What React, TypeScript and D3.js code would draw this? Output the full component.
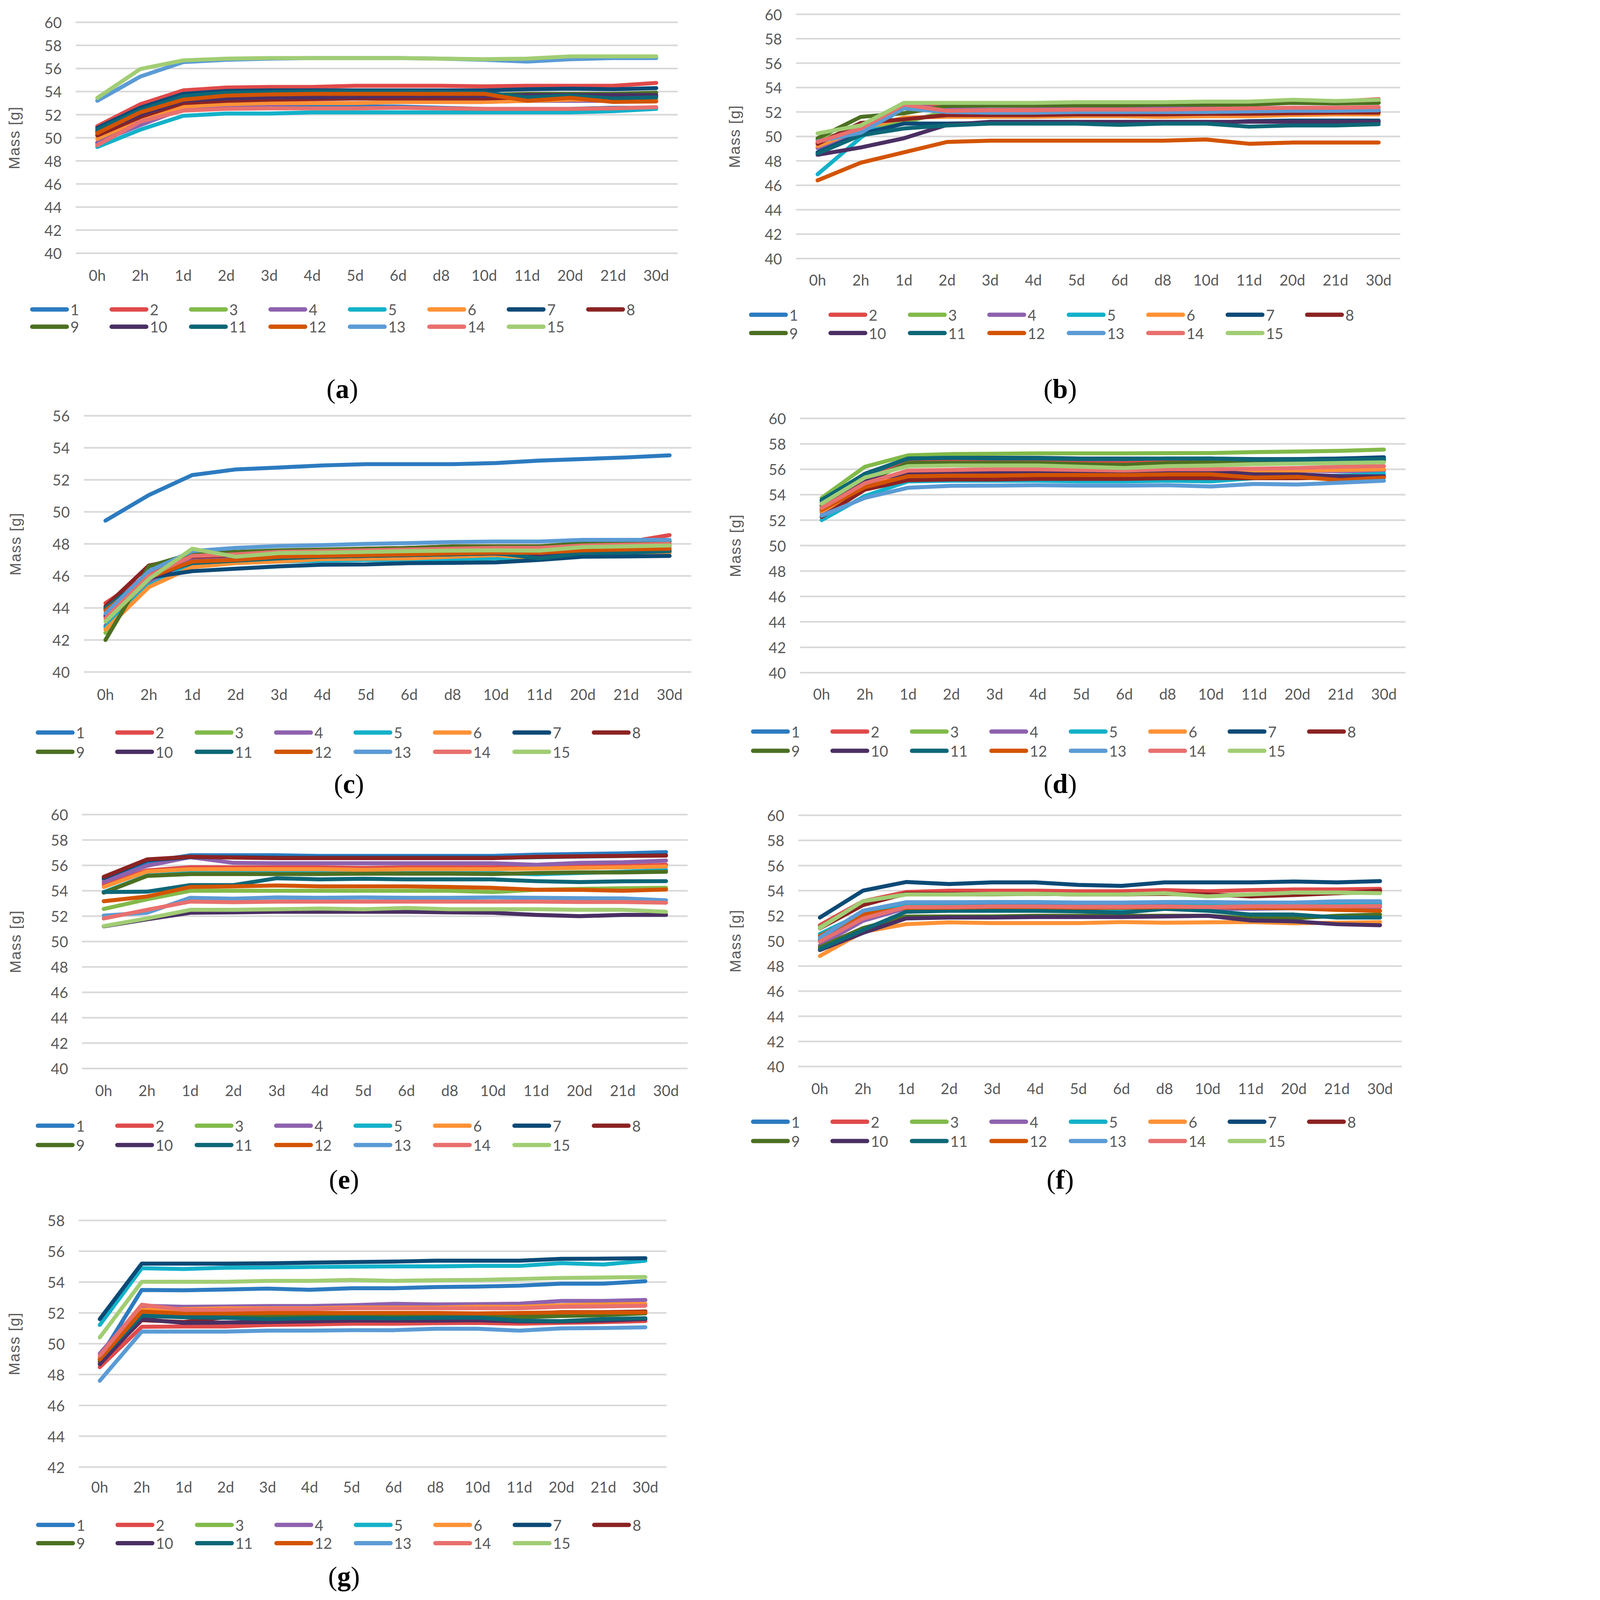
import * as d3 from "d3";

const categories = ["0h", "2h", "1d", "2d", "3d", "4d", "5d", "6d", "d8", "10d", "11d", "20d", "21d", "30d"];
const seriesNames = ["1", "2", "3", "4", "5", "6", "7", "8", "9", "10", "11", "12", "13", "14", "15"];
const seriesColors = [
  "#2C7BC0", "#E04A4A", "#82BA4A", "#8E62AE", "#13B1C9", "#FF9236", "#0C4A76", "#8B2323",
  "#4C7022", "#4A2F63", "#0D6776", "#D35400", "#5B9BD5", "#E8706E", "#A1CD74",
];

// mass [g] per sample (rows = series 1..15, columns = categories)
const massA = [
  [49.5, 51.3, 52.4, 52.6, 52.7, 52.7, 52.7, 52.7, 52.6, 52.5, 52.5, 52.5, 52.6, 52.6],
  [51.0, 52.9, 54.1, 54.35, 54.4, 54.4, 54.5, 54.5, 54.5, 54.45, 54.5, 54.5, 54.5, 54.75],
  [50.3, 51.9, 53.1, 53.3, 53.4, 53.5, 53.5, 53.5, 53.5, 53.5, 53.5, 53.6, 53.6, 53.7],
  [49.6, 51.1, 52.5, 52.8, 52.9, 53.0, 53.0, 53.1, 53.1, 53.1, 53.2, 53.2, 53.2, 53.3],
  [49.2, 50.7, 51.9, 52.1, 52.1, 52.2, 52.2, 52.2, 52.2, 52.2, 52.2, 52.2, 52.3, 52.5],
  [49.9, 51.6, 52.7, 52.9, 53.0, 53.0, 53.0, 53.1, 53.1, 53.1, 53.2, 53.3, 53.3, 53.3],
  [50.85, 52.6, 53.8, 54.05, 54.1, 54.1, 54.1, 54.1, 54.1, 54.1, 54.2, 54.25, 54.2, 54.3],
  [50.2, 51.8, 53.0, 53.2, 53.3, 53.35, 53.4, 53.4, 53.4, 53.4, 53.5, 53.5, 53.5, 53.6],
  [50.6, 52.3, 53.4, 53.5, 53.6, 53.6, 53.7, 53.7, 53.7, 53.7, 53.8, 53.8, 53.8, 53.9],
  [50.5, 52.0, 53.2, 53.4, 53.5, 53.5, 53.55, 53.6, 53.6, 53.6, 53.7, 53.7, 53.7, 53.7],
  [50.7, 52.4, 53.6, 53.9, 53.95, 54.0, 54.0, 54.0, 53.95, 53.9, 53.5, 53.65, 53.4, 53.5],
  [50.4, 52.2, 53.3, 53.65, 53.75, 53.8, 53.8, 53.8, 53.8, 53.8, 53.2, 53.45, 53.1, 53.15],
  [53.2, 55.3, 56.55, 56.75, 56.85, 56.9, 56.9, 56.9, 56.85, 56.75, 56.6, 56.8, 56.9, 56.9],
  [49.35, 51.4, 52.35, 52.5, 52.55, 52.55, 52.55, 52.6, 52.55, 52.5, 52.5, 52.5, 52.55, 52.65],
  [53.45, 55.95, 56.7, 56.85, 56.9, 56.9, 56.9, 56.9, 56.85, 56.8, 56.85, 57.05, 57.05, 57.05],
];

const massB = [
  [49.8, 50.5, 52.5, 52.05, 52.05, 52.05, 52.05, 52.05, 52.05, 52.1, 52.1, 52.1, 52.1, 52.1],
  [49.5, 50.9, 52.6, 52.4, 52.45, 52.5, 52.55, 52.55, 52.6, 52.65, 52.7, 52.8, 52.85, 53.05],
  [49.7, 50.7, 51.1, 52.1, 52.5, 52.55, 52.6, 52.6, 52.6, 52.65, 52.7, 52.8, 52.75, 52.8],
  [49.05, 50.3, 52.6, 52.2, 52.2, 52.2, 52.25, 52.3, 52.3, 52.3, 52.3, 52.35, 52.35, 52.35],
  [46.9, 49.9, 52.4, 52.05, 52.0, 52.0, 52.0, 52.0, 52.0, 52.0, 52.0, 52.1, 52.1, 52.1],
  [49.2, 50.6, 51.55, 51.6, 51.6, 51.6, 51.65, 51.65, 51.6, 51.65, 51.65, 51.75, 51.8, 51.8],
  [48.7, 50.2, 51.05, 51.05, 51.1, 51.1, 51.1, 51.1, 51.1, 51.1, 51.25, 51.3, 51.3, 51.3],
  [49.4, 51.1, 51.4, 51.75, 51.75, 51.75, 51.8, 51.8, 51.8, 51.85, 51.85, 51.9, 51.95, 51.95],
  [49.85, 51.6, 51.9, 52.5, 52.55, 52.55, 52.55, 52.55, 52.6, 52.6, 52.6, 52.75, 52.7, 52.75],
  [48.5, 49.1, 49.85, 50.95, 51.2, 51.2, 51.2, 51.2, 51.2, 51.2, 51.2, 51.2, 51.2, 51.2],
  [48.6, 50.1, 50.65, 50.9, 51.05, 51.05, 51.05, 50.95, 51.05, 51.05, 50.8, 50.9, 50.9, 51.0],
  [46.4, 47.85, 48.7, 49.55, 49.65, 49.65, 49.65, 49.65, 49.65, 49.75, 49.4, 49.5, 49.5, 49.5],
  [49.6, 50.3, 52.3, 52.0, 51.95, 51.95, 52.0, 52.0, 52.0, 52.0, 52.05, 52.1, 52.1, 52.15],
  [49.55, 50.65, 52.6, 52.1, 52.15, 52.15, 52.2, 52.2, 52.2, 52.25, 52.3, 52.35, 52.35, 52.4],
  [50.25, 50.9, 52.75, 52.75, 52.75, 52.75, 52.8, 52.8, 52.8, 52.85, 52.85, 53.0, 52.9, 53.0],
];

const massC = [
  [49.45, 51.05, 52.3, 52.65, 52.77, 52.9, 52.98, 52.98, 52.98, 53.05, 53.2, 53.3, 53.4, 53.53],
  [44.3, 46.1, 47.3, 47.4, 47.55, 47.6, 47.7, 47.75, 47.85, 47.85, 47.85, 48.0, 48.1, 48.55],
  [42.45, 45.7, 47.2, 47.3, 47.4, 47.45, 47.55, 47.6, 47.65, 47.7, 47.7, 47.85, 47.9, 48.0],
  [42.9, 45.6, 47.1, 47.2, 47.3, 47.35, 47.4, 47.45, 47.5, 47.5, 47.55, 47.7, 47.75, 47.85],
  [42.8, 45.4, 46.7, 46.8, 46.9, 46.95, 47.0, 47.0, 47.05, 47.1, 47.1, 47.3, 47.35, 47.5],
  [42.65, 45.3, 46.55, 46.8, 46.9, 47.05, 47.08, 47.1, 47.2, 47.3, 47.1, 47.3, 47.35, 47.45],
  [43.9, 45.9, 46.3, 46.45, 46.6, 46.7, 46.72, 46.8, 46.82, 46.85, 47.0, 47.2, 47.22, 47.25],
  [44.1, 46.65, 47.2, 47.3, 47.4, 47.45, 47.5, 47.55, 47.6, 47.6, 47.6, 47.75, 47.8, 47.9],
  [42.0, 46.6, 47.4, 47.5, 47.6, 47.65, 47.7, 47.75, 47.85, 47.85, 47.85, 48.05, 48.1, 48.15],
  [43.5, 45.8, 46.9, 47.0, 47.15, 47.2, 47.25, 47.3, 47.35, 47.4, 47.2, 47.45, 47.5, 47.6],
  [44.0, 46.0, 46.8, 46.95, 47.1, 47.2, 47.25, 47.3, 47.35, 47.43, 47.1, 47.43, 47.45, 47.55],
  [43.85, 45.9, 46.9, 47.0, 47.2, 47.25, 47.3, 47.35, 47.4, 47.45, 47.45, 47.6, 47.65, 47.7],
  [43.65, 46.3, 47.55, 47.75, 47.87, 47.92, 48.0, 48.05, 48.12, 48.15, 48.15, 48.25, 48.25, 48.25],
  [43.35, 46.0, 47.25, 47.35, 47.5, 47.55, 47.6, 47.65, 47.7, 47.75, 47.75, 47.9, 47.95, 48.0],
  [43.15, 45.8, 47.7, 47.2, 47.43, 47.45, 47.5, 47.55, 47.58, 47.6, 47.58, 47.8, 47.85, 47.9],
];

const massD = [
  [53.4, 55.4, 56.7, 56.75, 56.75, 56.8, 56.75, 56.75, 56.8, 56.85, 56.75, 56.8, 56.85, 56.9],
  [53.2, 55.2, 56.55, 56.6, 56.55, 56.6, 56.55, 56.6, 56.6, 56.65, 56.6, 56.65, 56.7, 56.75],
  [53.75, 56.2, 57.1, 57.2, 57.22, 57.25, 57.25, 57.25, 57.27, 57.28, 57.35, 57.4, 57.45, 57.55],
  [52.6, 54.8, 55.8, 55.9, 55.95, 55.95, 55.9, 55.9, 55.95, 56.0, 55.9, 55.9, 55.85, 55.9],
  [52.0, 53.9, 55.05, 55.1, 55.1, 55.1, 55.05, 55.05, 55.1, 55.05, 55.3, 55.4, 55.5, 55.65],
  [52.7, 54.5, 55.7, 55.8, 55.8, 55.85, 55.8, 55.75, 55.8, 55.8, 55.85, 55.9, 55.95, 56.0],
  [53.55, 55.65, 56.85, 56.9, 56.9, 56.9, 56.85, 56.85, 56.85, 56.85, 56.8, 56.8, 56.85, 56.95],
  [52.25, 54.4, 55.15, 55.2, 55.2, 55.25, 55.25, 55.25, 55.3, 55.3, 55.3, 55.3, 55.35, 55.4],
  [53.1, 55.0, 56.5, 56.5, 56.5, 56.5, 56.4, 56.35, 56.5, 56.55, 56.6, 56.6, 56.65, 56.7],
  [52.9, 55.15, 55.65, 55.75, 55.8, 55.75, 55.75, 55.8, 55.8, 55.85, 55.6, 55.6, 55.45, 55.45],
  [53.6, 55.6, 56.85, 56.9, 56.85, 56.85, 56.8, 56.8, 56.85, 56.85, 56.75, 56.75, 56.75, 56.8],
  [52.8, 54.6, 55.45, 55.5, 55.5, 55.55, 55.55, 55.55, 55.6, 55.6, 55.35, 55.4, 55.15, 55.35],
  [52.35, 53.75, 54.55, 54.7, 54.72, 54.75, 54.72, 54.72, 54.75, 54.65, 54.85, 54.8, 54.95, 55.1],
  [52.95, 54.9, 55.9, 55.95, 56.0, 56.0, 55.95, 55.9, 56.0, 56.0, 56.05, 56.1, 56.2, 56.25],
  [53.3, 55.35, 56.25, 56.3, 56.3, 56.3, 56.2, 56.1, 56.25, 56.3, 56.4, 56.45, 56.5, 56.55],
];

const massE = [
  [54.9, 56.27, 56.8, 56.8, 56.8, 56.75, 56.75, 56.75, 56.75, 56.75, 56.85, 56.9, 56.95, 57.05],
  [54.5, 55.6, 55.86, 55.85, 55.85, 55.85, 55.8, 55.85, 55.85, 55.85, 55.9, 55.95, 55.95, 56.05],
  [52.57, 53.33, 54.0, 54.0, 54.0, 54.0, 54.0, 54.0, 54.0, 53.9, 54.08, 54.15, 54.2, 54.23],
  [54.7, 55.97, 56.65, 56.2, 56.17, 56.17, 56.17, 56.17, 56.17, 56.17, 56.05, 56.2, 56.25, 56.38],
  [53.9, 55.2, 55.4, 55.4, 55.4, 55.4, 55.35, 55.4, 55.4, 55.4, 55.3, 55.4, 55.5, 55.65],
  [54.3, 55.52, 55.7, 55.7, 55.7, 55.7, 55.65, 55.7, 55.7, 55.7, 55.75, 55.8, 55.85, 55.92],
  [55.0, 56.4, 56.65, 56.65, 56.6, 56.6, 56.6, 56.6, 56.6, 56.6, 56.65, 56.7, 56.75, 56.8],
  [55.1, 56.47, 56.68, 56.62, 56.57, 56.57, 56.57, 56.57, 56.57, 56.57, 56.68, 56.72, 56.75, 56.77],
  [53.85, 55.17, 55.32, 55.32, 55.32, 55.32, 55.35, 55.35, 55.35, 55.32, 55.4, 55.45, 55.45, 55.5],
  [51.2, 51.75, 52.27, 52.3, 52.35, 52.35, 52.35, 52.35, 52.3, 52.27, 52.1, 52.0, 52.1, 52.1],
  [53.9, 53.93, 54.45, 54.45, 54.99, 54.9, 54.95, 54.9, 54.9, 54.9, 54.76, 54.69, 54.75, 54.76],
  [53.18, 53.55, 54.3, 54.35, 54.42, 54.35, 54.35, 54.35, 54.3, 54.23, 54.08, 54.08, 54.0, 54.1],
  [52.05, 52.27, 53.45, 53.38, 53.48, 53.45, 53.48, 53.45, 53.45, 53.48, 53.45, 53.42, 53.4, 53.25],
  [51.82, 52.5, 53.15, 53.1, 53.15, 53.15, 53.15, 53.15, 53.15, 53.15, 53.15, 53.12, 53.12, 53.06],
  [51.22, 51.82, 52.5, 52.5, 52.55, 52.6, 52.55, 52.65, 52.55, 52.55, 52.55, 52.5, 52.5, 52.35],
];

const massF = [
  [50.1, 51.9, 52.85, 52.9, 52.9, 52.9, 52.9, 52.85, 52.95, 52.95, 52.9, 52.95, 52.95, 53.0],
  [51.25, 53.16, 53.89, 54.0, 54.0, 54.0, 53.95, 53.95, 54.05, 53.95, 54.05, 54.1, 54.1, 54.15],
  [51.1, 53.05, 53.7, 53.7, 53.7, 53.75, 53.7, 53.7, 53.75, 53.6, 53.7, 53.8, 53.8, 53.85],
  [49.65, 51.6, 52.6, 52.6, 52.65, 52.65, 52.6, 52.6, 52.6, 52.55, 52.55, 52.6, 52.65, 52.7],
  [50.56, 52.2, 52.8, 52.75, 52.75, 52.75, 52.7, 52.55, 52.75, 52.8, 52.8, 52.85, 52.85, 52.9],
  [48.8, 50.72, 51.33, 51.48, 51.42, 51.42, 51.42, 51.5, 51.45, 51.48, 51.5, 51.4, 51.45, 51.5],
  [51.86, 54.0, 54.69, 54.53, 54.66, 54.66, 54.46, 54.38, 54.66, 54.66, 54.66, 54.73, 54.66, 54.76],
  [51.0, 52.85, 53.77, 53.75, 53.75, 53.75, 53.7, 53.7, 53.75, 53.7, 53.54, 53.65, 53.8, 54.0],
  [49.5, 51.02, 51.94, 51.95, 51.95, 52.0, 52.0, 52.0, 52.0, 52.0, 51.8, 51.8, 52.0, 52.1],
  [49.27, 50.64, 51.79, 51.86, 51.86, 51.9, 51.9, 51.9, 51.95, 52.0, 51.63, 51.56, 51.33, 51.25],
  [49.34, 50.87, 52.32, 52.4, 52.4, 52.4, 52.35, 52.25, 52.55, 52.4, 52.1, 52.1, 51.86, 51.86],
  [50.4, 52.1, 52.63, 52.65, 52.7, 52.7, 52.65, 52.65, 52.7, 52.7, 52.65, 52.6, 52.47, 52.4],
  [50.26, 52.4, 53.08, 53.08, 53.1, 53.1, 53.05, 53.05, 53.1, 53.1, 53.05, 53.05, 53.15, 53.16],
  [49.95, 51.79, 52.7, 52.7, 52.75, 52.75, 52.72, 52.72, 52.75, 52.7, 52.75, 52.75, 52.75, 52.78],
  [51.02, 53.16, 53.7, 53.7, 53.75, 53.75, 53.7, 53.7, 53.8, 53.54, 53.7, 53.85, 53.85, 53.8],
];

const massG = [
  [49.1, 53.49, 53.47, 53.52, 53.58, 53.5, 53.6, 53.6, 53.68, 53.71, 53.77, 53.9, 53.9, 54.06],
  [48.48, 51.1, 51.12, 51.12, 51.22, 51.25, 51.3, 51.3, 51.33, 51.35, 51.3, 51.35, 51.4, 51.47],
  [49.0, 51.9, 51.8, 51.85, 51.85, 51.85, 51.9, 51.9, 51.9, 51.95, 51.85, 51.8, 51.9, 52.1],
  [49.36, 52.47, 52.4, 52.42, 52.45, 52.45, 52.5, 52.59, 52.55, 52.57, 52.6, 52.78, 52.78, 52.84],
  [51.22, 54.9, 54.85, 54.93, 54.95, 54.98, 55.0, 55.02, 55.02, 55.05, 55.05, 55.23, 55.14, 55.39],
  [49.1, 52.2, 52.25, 52.3, 52.3, 52.3, 52.35, 52.35, 52.35, 52.4, 52.4, 52.5, 52.55, 52.59],
  [51.6, 55.2, 55.2, 55.2, 55.22, 55.26, 55.3, 55.33, 55.39, 55.39, 55.39, 55.51, 55.52, 55.55],
  [48.8, 51.53, 51.41, 51.72, 51.75, 51.8, 51.85, 51.85, 51.9, 51.9, 51.95, 52.05, 52.05, 52.09],
  [48.9, 51.78, 51.75, 51.8, 51.8, 51.8, 51.8, 51.8, 51.85, 51.85, 51.72, 51.8, 51.85, 51.97],
  [48.67, 51.6, 51.35, 51.38, 51.41, 51.45, 51.5, 51.5, 51.5, 51.52, 51.45, 51.45, 51.5, 51.6],
  [48.98, 51.82, 51.72, 51.68, 51.6, 51.65, 51.68, 51.65, 51.68, 51.7, 51.5, 51.47, 51.6, 51.66],
  [48.98, 52.09, 51.97, 51.97, 52.0, 52.0, 52.0, 52.0, 52.0, 51.97, 52.0, 52.03, 52.03, 52.03],
  [47.6, 50.79, 50.79, 50.79, 50.85, 50.85, 50.88, 50.88, 50.97, 50.97, 50.85, 51.0, 51.02, 51.07],
  [49.23, 52.53, 52.2, 52.2, 52.25, 52.25, 52.3, 52.3, 52.3, 52.3, 52.3, 52.4, 52.42, 52.47],
  [50.41, 54.02, 54.02, 54.02, 54.08, 54.08, 54.14, 54.08, 54.12, 54.14, 54.2, 54.27, 54.3, 54.33],
];

// panel placement on the 4242 x 4814 canvas
const panels = [
  { id: "a", data: massA, yDomain: [40, 60], left: 228, right: 2039, top: 67, bottom: 762, xLabelY: 827, legendX: 90, legendY: [931, 983], capX: 1030, capY: 1178, titleX: 43 },
  { id: "b", data: massB, yDomain: [40, 60], left: 2395, right: 4213, top: 43, bottom: 778, xLabelY: 842, legendX: 2253, legendY: [947, 1002], capX: 3190, capY: 1178, titleX: 2210 },
  { id: "c", data: massC, yDomain: [40, 56], left: 252, right: 2080, top: 1251, bottom: 2022, xLabelY: 2088, legendX: 107, legendY: [2204, 2262], capX: 1050, capY: 2366, titleX: 47 },
  { id: "d", data: massD, yDomain: [40, 60], left: 2407, right: 4229, top: 1259, bottom: 2024, xLabelY: 2087, legendX: 2259, legendY: [2201, 2259], capX: 3190, capY: 2366, titleX: 2213 },
  { id: "e", data: massE, yDomain: [40, 60], left: 247, right: 2069, top: 2451, bottom: 3215, xLabelY: 3280, legendX: 107, legendY: [3387, 3445], capX: 1035, capY: 3556, titleX: 47 },
  { id: "f", data: massF, yDomain: [40, 60], left: 2402, right: 4217, top: 2453, bottom: 3209, xLabelY: 3274, legendX: 2259, legendY: [3375, 3433], capX: 3190, capY: 3556, titleX: 2213 },
  { id: "g", data: massG, yDomain: [42, 58], left: 237, right: 2005, top: 3672, bottom: 4414, xLabelY: 4473, legendX: 108, legendY: [4588, 4643], capX: 1035, capY: 4751, titleX: 43 },
];

const labelFont = "Lato, 'Open Sans', sans-serif";
const gray = "#595959";

function Panel({ p }: { p: (typeof panels)[number] }) {
  const x = d3.scaleBand<string>().domain(categories).range([p.left, p.right]);
  const y = d3.scaleLinear().domain(p.yDomain).range([p.bottom, p.top]);
  const ticks = d3.range(p.yDomain[0], p.yDomain[1] + 0.1, 2);
  const cx = (c: string) => (x(c) ?? 0) + x.bandwidth() / 2;
  const line = d3
    .line<number>()
    .x((_, i) => cx(categories[i]))
    .y((d) => y(d));

  return (
    <g>
      {ticks.map((t) => (
        <g key={t}>
          <line x1={p.left} x2={p.right} y1={y(t)} y2={y(t)} stroke="#D9D9D9" strokeWidth={5} />
          <text x={p.left - 42} y={y(t)} textAnchor="end" dominantBaseline="central" fontSize={45} fill={gray} fontFamily={labelFont}>
            {t}
          </text>
        </g>
      ))}
      {categories.map((c) => (
        <text key={c} x={cx(c)} y={p.xLabelY} textAnchor="middle" dominantBaseline="central" fontSize={45} fill={gray} fontFamily={labelFont}>
          {c}
        </text>
      ))}
      <text
        transform={`translate(${p.titleX},${(p.top + p.bottom) / 2}) rotate(-90)`}
        textAnchor="middle"
        dominantBaseline="central"
        fontSize={46}
        letterSpacing={2}
        fill={gray}
        fontFamily="'Liberation Sans', Arial, sans-serif"
      >
        Mass [g]
      </text>
      {p.data.map((s, i) => (
        <path key={i} d={line(s) ?? ""} fill="none" stroke={seriesColors[i]} strokeWidth={12} strokeLinejoin="round" strokeLinecap="round" />
      ))}
      {seriesNames.map((name, i) => {
        const x0 = p.legendX + (i % 8) * 239;
        const yy = p.legendY[i < 8 ? 0 : 1];
        return (
          <g key={name}>
            <line x1={x0 + 7} x2={x0 + 111} y1={yy} y2={yy} stroke={seriesColors[i]} strokeWidth={13} strokeLinecap="round" />
            <text x={x0 + 122} y={yy} dominantBaseline="central" fontSize={45} fill={gray} fontFamily={labelFont}>
              {name}
            </text>
          </g>
        );
      })}
      <text x={p.capX} y={p.capY + 20} textAnchor="middle" fontSize={82} fill="#000" fontFamily="'Liberation Serif', 'Times New Roman', serif">
        (<tspan fontWeight="bold">{p.id}</tspan>)
      </text>
    </g>
  );
}

export default function App() {
  return (
    <svg
      viewBox="0 0 4242 4814"
      preserveAspectRatio="xMinYMin meet"
      style={{ position: "fixed", left: 0, top: 0, width: "100vw", height: "100vh", display: "block", background: "#fff" }}
    >
      <rect width={4242} height={4814} fill="#fff" />
      {panels.map((p) => (
        <Panel key={p.id} p={p} />
      ))}
    </svg>
  );
}
